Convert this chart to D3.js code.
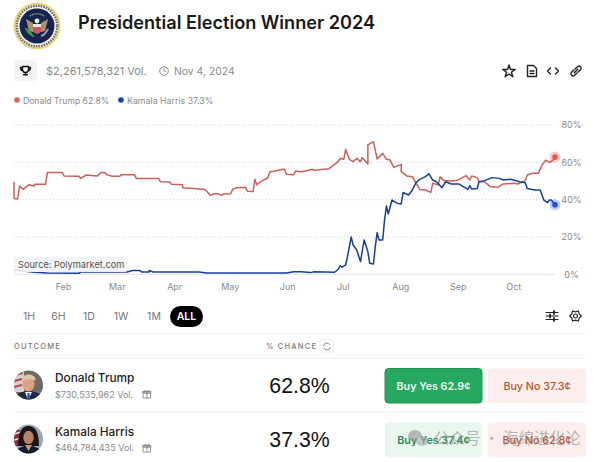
<!DOCTYPE html>
<html>
<head>
<meta charset="utf-8">
<script src="https://cdn.jsdelivr.net/npm/d3@7"></script>
<style>
  html, body { margin: 0; padding: 0; background: #fff; }
  svg { display: block; }
  text { font-family: Inter, "Noto Sans", sans-serif; }
</style>
</head>
<body>
<svg id="chart" width="600" height="462"></svg>
<script>
// values: days are counted from Jan 1 2024, values in %
var trumpDays = [4.4,4.7,6.9,7.4,9.6,12.3,15,15.9,21.3,22.5,30.6,31.5,39.5,40.5,43.4,49.2,51,53.7,54.6,57.3,61.8,62.7,69.3,70.8,82.8,83.7,88.8,89.7,95,95.6,101,107,109.5,110.7,112.2,114.9,116.1,117.6,121.2,122,124.8,129.3,130.5,133.8,134.5,135.2,138.3,141.3,142,145.4,149,150.8,151.8,155.7,156.5,159,162.6,165.3,166.2,174.3,177,179.7,180.6,182,183.7,185.6,187.8,189.6,191,192.8,195,195.9,198.2,200.8,203.1,205.4,207.2,209,213,213.9,216.6,219.3,221,223.4,226.5,229.2,230.6,233.2,234.2,236.4,240,243.6,248.5,250.8,251.9,254.4,255,258,261.6,265.2,268.8,274.2,276,280.5,281.8,284.1,287.7,289.5,291.3,293,295.8,296.7];
var trumpValues = [49.6,40.7,40.4,47.3,45.5,48,47.3,48.2,48.2,54.5,54.6,52.7,52.5,51.4,53.2,52.7,54.6,54.5,53.4,52.5,52.5,53.4,53.4,51.4,51.4,49.6,49.5,48.2,48,46.4,46,45.4,43.4,42.3,43.2,43.2,42.3,43,43.2,45.5,46.4,46.6,44.5,44.3,50.9,48,50.2,51.6,54.8,55.4,56.3,56.3,53.6,53.4,55.4,55,55.5,56.3,55.7,56.6,58.9,60.4,62.1,61.6,67,61.6,60.4,62.1,60.4,62.5,59.1,69.3,71.1,61.8,64.8,61.6,61.2,57.3,58.9,55,52.7,52.3,48.8,45.5,45.2,43.9,48.8,47.9,52.3,50.2,50,50.2,52.9,50.5,52.7,51.8,49.6,49.6,47,46.6,48.4,48.8,48.4,50.2,53.2,54.1,54.1,58.6,61.2,60,61.2,62.8];

var harrisDays = [4.4,15,22.2,39.6,40,65.4,68,72.6,73.5,77,77.6,79,104,108.5,151.8,155.5,159,164.4,166.2,177.9,179.7,180.6,181.5,183.3,184.2,186.4,187.8,189.6,191,193.2,195,196.4,198.6,199.5,200.8,201.8,203.1,204,205.8,206.7,208.5,211.2,213.4,214.4,217,219.3,221,223.4,226.5,228.8,230.6,232,235,237.8,240,244.5,249.9,250.8,251.7,254.4,255,258.9,262,266.6,268.8,272,277.8,280,281.8,285,288,290.4,292.2,293,294.9,296.7];
var harrisValues = [2.3,1.1,0.7,0.5,1.2,1.2,2,2,1.2,1.2,2,1.2,1.2,0.7,0.7,1.4,1.4,0.9,1.4,1.1,2.7,4.5,3.8,5,9.5,20,15.7,13,6.8,18.4,12.1,5.9,5.5,14.8,22.3,18.4,18.4,29.1,36.6,32.3,39.8,38,37.7,43.8,42.5,45.2,49.1,50.9,52.3,53.8,50.5,49.6,46.4,49.6,48.4,48.4,45.5,47.5,45.7,46,49.6,50.2,51.8,51.4,50.5,50.9,49.6,49.1,46,45.2,45.2,39.8,38.4,39.8,39.8,37.3];

var yTicks = [0, 20, 40, 60, 80];
var timeframes = ["1H", "6H", "1D", "1W", "1M", "ALL"];
var timeframeX = [29, 58.5, 89, 121, 154, 186.5];
var outcomes = ["Donald Trump", "Kamala Harris"];
var outcomeVolumes = ["$730,535,962 Vol.", "$464,784,435 Vol."];
var outcomeChances = ["62.8%", "37.3%"];
var buyYes = ["Buy Yes 62.9¢", "Buy Yes 37.4¢"];
var buyNo = ["Buy No 37.3¢", "Buy No 62.8¢"];

function toDate(day) { return new Date(Date.UTC(2024, 0, 1 + day)); }

var svg = d3.select("#chart");
var grey = "#8a8a8a";

var x = d3.scaleUtc().domain([toDate(4.4), toDate(296.7)]).range([14, 555]);
var y = d3.scaleLinear().domain([0, 80]).range([274.3, 125]);

function addText(txt, px, py, size, fill, weight, anchor) {
  return svg.append("text").attr("x", px).attr("y", py)
    .attr("font-size", size).attr("fill", fill)
    .attr("font-weight", weight || 400)
    .attr("text-anchor", anchor || "start").text(txt);
}

function iconGroup(px, py) {
  return svg.append("g").attr("transform", "translate(" + px + "," + py + ")")
    .attr("fill", "none").attr("stroke", "#222").attr("stroke-width", 1.4)
    .attr("stroke-linejoin", "round").attr("stroke-linecap", "round");
}

// seal
var seal = svg.append("g").attr("transform", "translate(37,26)");
seal.append("circle").attr("r", 23.5).attr("fill", "#e9d772");
seal.append("circle").attr("r", 21.5).attr("fill", "#f7f4e4");
seal.append("circle").attr("r", 20.3).attr("fill", "none").attr("stroke", "#6a6a70").attr("stroke-width", 2.4).attr("stroke-dasharray", "1.6 1");
seal.append("circle").attr("r", 17.5).attr("fill", "#16244f");
seal.append("path").attr("d", "M-11,-7 L-4,-3 L-4,6 L-8,5 Z M11,-7 L4,-3 L4,6 L8,5 Z").attr("fill", "#a9906a");
seal.append("path").attr("d", "M-4,-2 L4,-2 L4,5 Q0,10 -4,5 Z").attr("fill", "#f1e7e2");
seal.append("path").attr("d", "M-4,1 L4,1 L4,5 Q0,10 -4,5 Z").attr("fill", "#c9565c");
seal.append("circle").attr("cy", -5).attr("r", 2.4).attr("fill", "#f4efe6");
seal.append("path").attr("d", "M-11,3 Q-8,9 -4,10 Q-8,4 -11,3 Z").attr("fill", "#3f9b4e").attr("stroke", "#3f9b4e").attr("stroke-width", 1.5);
seal.append("path").attr("d", "M11,3 Q8,9 4,10").attr("fill", "none").attr("stroke", "#9a9ab0").attr("stroke-width", 2);
seal.append("path").attr("d", "M-7,-10 A12,12 0 0 1 7,-10").attr("fill", "none").attr("stroke", "#e6dfc0").attr("stroke-width", 1.2).attr("stroke-dasharray", "1 1");

addText("Presidential Election Winner 2024", 78, 29, 18.15, "#1a1a1a", 600);

// trophy chip, volume and end date
svg.append("rect").attr("x", 14).attr("y", 60).attr("width", 23).attr("height", 21).attr("rx", 3).attr("fill", "#f3f3f3");
var trophy = iconGroup(25.5, 70.5);
trophy.append("path").attr("d", "M-3,-4 H3 V-1 Q3,2 0,2 Q-3,2 -3,-1 Z M-3,-3 H-5 Q-5,0 -3,0 M3,-3 H5 Q5,0 3,0 M0,2 V4 M-2,4.3 H2").attr("stroke", "#111");
addText("$2,261,578,321 Vol.", 46, 75, 11, grey);
svg.append("circle").attr("cx", 164).attr("cy", 71).attr("r", 4.3).attr("fill", "none").attr("stroke", grey);
svg.append("path").attr("d", "M164,68.5 V71 L166,72").attr("fill", "none").attr("stroke", grey);
addText("Nov 4, 2024", 174, 75, 10.4, grey);

// top right icons
iconGroup(509, 71.5).append("path").attr("d", d3.symbol().type(d3.symbolStar).size(48));
var doc = iconGroup(532, 71);
doc.append("path").attr("d", "M-4.5,-5.5 H1.5 L4.5,-2.5 V5.5 H-4.5 Z");
doc.append("path").attr("d", "M-2,0 H2 M-2,2.5 H2");
iconGroup(553, 71).append("path").attr("d", "M-2.5,-3 L-5.5,0 L-2.5,3 M2.5,-3 L5.5,0 L2.5,3");
var link = iconGroup(576, 71);
link.append("path").attr("d", "M-1,-2 L1.8,-4.6 A2.2,2.2 0 0 1 4.8,-1.6 L2,1 M1,2 L-1.8,4.6 A2.2,2.2 0 0 1 -4.8,1.6 L-2,-1 M-1.7,1.7 L1.7,-1.7");

// legend
svg.append("circle").attr("cx", 17).attr("cy", 100).attr("r", 2.8).attr("fill", "#e0605e");
addText("Donald Trump 62.8%", 23, 103.5, 8.6, grey);
svg.append("circle").attr("cx", 121).attr("cy", 100).attr("r", 2.8).attr("fill", "#1d3fae");
addText("Kamala Harris 37.3%", 127, 103.5, 8.8, grey);

// y axis with dotted grid
var yAxis = d3.axisRight(y).tickValues(yTicks).tickSize(0).tickPadding(0).tickFormat(function(d) { return d + "%"; });
var yG = svg.append("g").attr("transform", "translate(571.5,0)").call(yAxis);
yG.select(".domain").remove();
yG.selectAll("text").attr("text-anchor", "middle").attr("font-size", 9).attr("fill", grey).style("font-family", "Inter");

svg.append("g").selectAll("line").data(yTicks.filter(function(d) { return d > 0; })).enter().append("line")
  .attr("x1", 14).attr("x2", 555)
  .attr("y1", function(d) { return y(d); }).attr("y2", function(d) { return y(d); })
  .attr("stroke", "#d2d2d2").attr("stroke-width", 1).attr("stroke-dasharray", "1 2");
svg.append("line").attr("x1", 14).attr("x2", 555).attr("y1", y(0)).attr("y2", y(0)).attr("stroke", "#dde3ee").attr("stroke-width", 1);

// x axis
var xAxis = d3.axisBottom(x).ticks(d3.utcMonth.every(1)).tickSize(0).tickPadding(0).tickFormat(d3.utcFormat("%b"));
var xG = svg.append("g").attr("transform", "translate(-1,283.5)").call(xAxis);
xG.select(".domain").remove();
xG.selectAll("text").attr("font-size", 9).attr("fill", grey).style("font-family", "Inter");

// lines
var line = d3.line().x(function(d) { return x(toDate(d[0])); }).y(function(d) { return y(d[1]); });
svg.append("path").datum(d3.zip(trumpDays, trumpValues)).attr("d", line)
  .attr("fill", "none").attr("stroke", "#c8605c").attr("stroke-width", 1.5).attr("stroke-linejoin", "round");
svg.append("path").datum(d3.zip(harrisDays, harrisValues)).attr("d", line)
  .attr("fill", "none").attr("stroke", "#173f96").attr("stroke-width", 1.5).attr("stroke-linejoin", "round");

// end dots
[[296.7, 62.8, "#ef5350"], [296.7, 37.3, "#1d52d8"]].forEach(function(p) {
  svg.append("circle").attr("cx", x(toDate(p[0]))).attr("cy", y(p[1])).attr("r", 5.5).attr("fill", p[2]).attr("opacity", 0.3);
  svg.append("circle").attr("cx", x(toDate(p[0]))).attr("cy", y(p[1])).attr("r", 2.8).attr("fill", p[2]);
});

// source label
svg.append("rect").attr("x", 14).attr("y", 257).attr("width", 113).attr("height", 15).attr("rx", 2).attr("fill", "#f2f3f5").attr("opacity", 0.92);
addText("Source: Polymarket.com", 18, 268, 9.2, "#555");

// timeframe buttons
svg.append("rect").attr("x", 170).attr("y", 306).attr("width", 33).attr("height", 21).attr("rx", 10.5).attr("fill", "#000");
svg.append("g").selectAll("text").data(timeframes).enter().append("text")
  .attr("x", function(d, i) { return timeframeX[i]; }).attr("y", 320)
  .attr("text-anchor", "middle").attr("font-size", 10.5)
  .attr("font-weight", function(d) { return d === "ALL" ? 600 : 400; })
  .attr("fill", function(d) { return d === "ALL" ? "#fff" : "#777"; })
  .text(function(d) { return d; });

// sliders and gear
var sliders = iconGroup(552, 316).attr("stroke-width", 1.2);
sliders.append("path").attr("d", "M-6,-3.5 H6 M-6,0 H6 M-6,3.5 H6");
sliders.append("path").attr("d", "M2,-5 V-2 M-2,-1.5 V1.5 M2,2 V5").attr("stroke-width", 1.8);
var gear = iconGroup(575.5, 316).attr("stroke-width", 1.2);
gear.append("circle").attr("r", 2);
gear.append("path").attr("d", d3.range(6).map(function(i) {
  var a = i * Math.PI / 3, b = a + Math.PI / 6, c = a - Math.PI / 6;
  return (i ? "L" : "M") + 4.2 * Math.cos(c) + "," + 4.2 * Math.sin(c) + "L" + 5.8 * Math.cos(a) + "," + 5.8 * Math.sin(a) + "L" + 4.2 * Math.cos(b) + "," + 4.2 * Math.sin(b);
}).join("") + "Z");

// table dividers
svg.append("g").selectAll("line").data([334, 358.5, 412]).enter().append("line")
  .attr("x1", 14).attr("x2", 586).attr("y1", function(d) { return d; }).attr("y2", function(d) { return d; })
  .attr("stroke", "#f0f0f0");

addText("OUTCOME", 14, 349, 7.5, "#777", 500).attr("letter-spacing", 1.2);
addText("% CHANCE", 266, 349, 7.5, "#777", 500).attr("letter-spacing", 1.2);
svg.append("rect").attr("x", 320).attr("y", 339.5).attr("width", 13.5).attr("height", 13.5).attr("rx", 2).attr("fill", "#fff").attr("stroke", "#f0f0f0");
svg.append("path").attr("d", "M323.5,346 A3.5,3.5 0 0 1 330,345 M330.5,347 A3.5,3.5 0 0 1 324,348").attr("fill", "none").attr("stroke", "#888");

// portraits
var defs = svg.append("defs");
[385, 439].forEach(function(cy, i) {
  defs.append("clipPath").attr("id", "clip" + i).append("circle").attr("cx", 28.5).attr("cy", cy).attr("r", 14.5);
});
var p1 = svg.append("g").attr("clip-path", "url(#clip0)");
p1.append("rect").attr("x", 14).attr("y", 370).attr("width", 29).attr("height", 30).attr("fill", "#6f6a68");
p1.append("path").attr("d", "M14,370 L24,370 L24,392 L14,392 Z").attr("fill", "#d8cfcf");
p1.append("path").attr("d", "M15,375 L23,373 M14,381 L22,379 M14,387 L22,385").attr("stroke", "#b64a4a").attr("stroke-width", 2);
p1.append("path").attr("d", "M14,400 L14,396 Q22,391 28,391 Q36,391 43,396 L43,400 Z").attr("fill", "#1f2a40");
p1.append("path").attr("d", "M25,392 L28,400 L32,392 Z").attr("fill", "#eef");
p1.append("path").attr("d", "M27.5,393 H29.5 L30,400 H27 Z").attr("fill", "#2f55a8");
p1.append("ellipse").attr("cx", 28.5).attr("cy", 384).attr("rx", 6).attr("ry", 7.5).attr("fill", "#dba183");
p1.append("path").attr("d", "M22,381 Q22,374 29,374.5 Q36,375 35.5,381 Q31,377 22,381 Z").attr("fill", "#dcc9a0");

var p2 = svg.append("g").attr("clip-path", "url(#clip1)");
p2.append("rect").attr("x", 14).attr("y", 424).attr("width", 29).attr("height", 30).attr("fill", "#9aa5bd");
p2.append("path").attr("d", "M14,430 L20,430 L20,446 L14,446 Z").attr("fill", "#8f2f3c");
p2.append("path").attr("d", "M14,434 L21,432 M14,440 L21,438").attr("stroke", "#e8e0e0").attr("stroke-width", 1.5);
p2.append("path").attr("d", "M18,446 Q18,426 28.5,426 Q39,426 39,446 Z").attr("fill", "#1b1414");
p2.append("path").attr("d", "M14,454 L14,451 Q22,446 28,445 Q35,446 43,451 L43,454 Z").attr("fill", "#141b2e");
p2.append("ellipse").attr("cx", 28.5).attr("cy", 437.5).attr("rx", 5.2).attr("ry", 6.8).attr("fill", "#b98363");
p2.append("path").attr("d", "M25,445 L28.5,451 L32,445 Z").attr("fill", "#c59a80");

// outcome rows
var rowY = [0, 54];
outcomes.forEach(function(name, i) {
  var dy = rowY[i];
  addText(name, 55, 382 + dy, 11.8, "#222", 500);
  addText(outcomeVolumes[i], 55, 398 + dy - (i ? 1 : 0), 9, grey);
  addText(outcomeChances[i], 299.5, 393 + dy, 21.3, "#111", 400, "middle").style("font-family", "'Liberation Sans'");
  var gift = iconGroup(147, 394.5 + dy).attr("stroke", "#888").attr("stroke-width", 0.9);
  gift.append("path").attr("d", "M-3.5,-1.5 H3.5 V3.5 H-3.5 Z M-4,-3 H4 V-1.5 H-4 Z M0,-3 V3.5 M0,-3 Q-3,-5.5 -2.5,-3 M0,-3 Q3,-5.5 2.5,-3");
  svg.append("rect").attr("x", 385).attr("y", 368.5 + dy).attr("width", 97).attr("height", 34.5).attr("rx", 3.5)
    .attr("fill", i ? "#e9f7ef" : "#27a860").attr("stroke", i ? "none" : "#1f9150");
  addText(buyYes[i], 433.5, 389.5 + dy, 10.7, i ? "#2d8a5b" : "#ecf9f1", 600, "middle");
  svg.append("rect").attr("x", 488).attr("y", 368.5 + dy).attr("width", 98).attr("height", 34.5).attr("rx", 3.5).attr("fill", "#fbeeec");
  addText(buyNo[i], 537, 389.5 + dy, 10.7, "#b5562a", 500, "middle");
});

// watermark
var wm = svg.append("g").attr("opacity", 0.6);
wm.append("ellipse").attr("cx", 415).attr("cy", 436).attr("rx", 7).attr("ry", 6).attr("fill", "#8f8f8f");
wm.append("ellipse").attr("cx", 422).attr("cy", 441).attr("rx", 6).attr("ry", 5).attr("fill", "#a8a8a8");
wm.append("text").attr("x", 434).attr("y", 444).attr("font-size", 15.5).attr("fill", "#8a8a8a").style("font-family", "'Noto Sans CJK SC'").text("公众号 · 海绵进化论");
</script>
</body>
</html>
